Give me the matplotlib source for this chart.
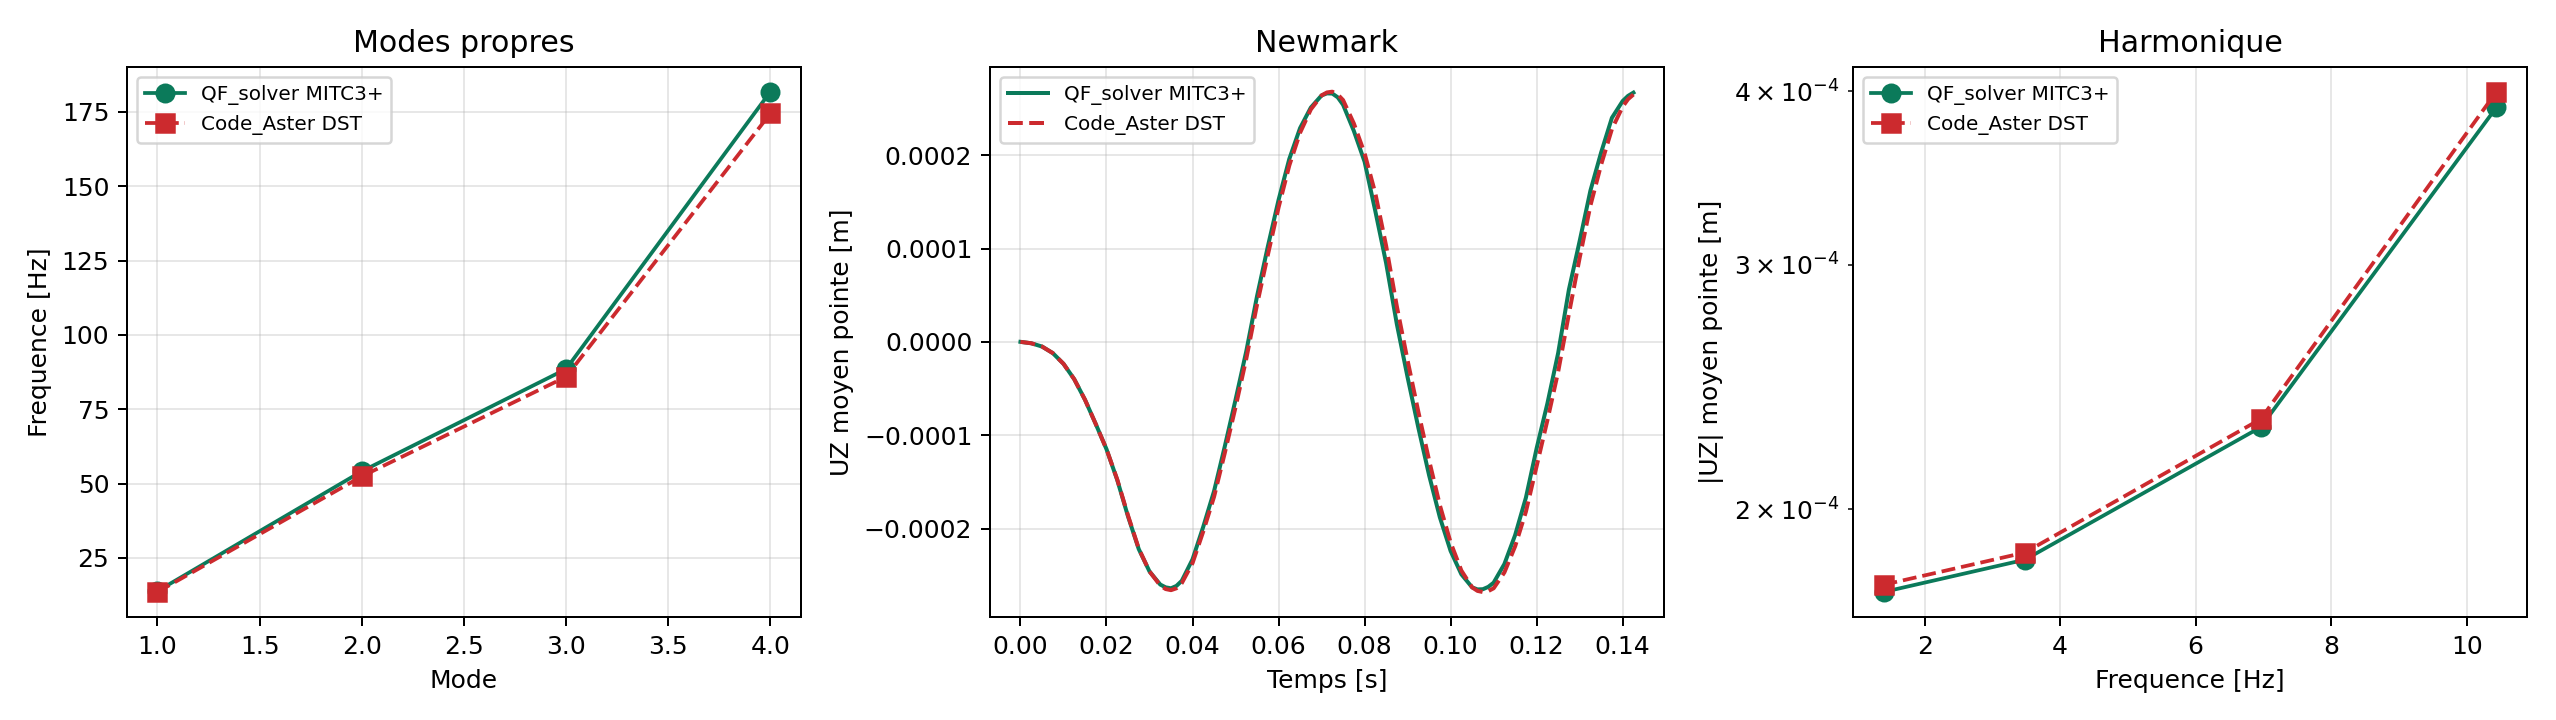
import numpy as np
import matplotlib
matplotlib.use("Agg")
import matplotlib.pyplot as plt

# couleurs des deux solveurs
c_qf = "#0b7a5a"
c_ca = "#cc2a2e"
lab_qf = "QF_solver MITC3+"
lab_ca = "Code_Aster DST"

# --- modes propres
modes = [1, 2, 3, 4]
freq_qf = [13.8, 54.1, 88.5, 181.8]
freq_ca = [13.5, 52.4, 85.9, 174.5]

# --- Newmark (UZ en 1e-4 m)
temps = [0.0000, 0.0025, 0.0050, 0.0075, 0.0100, 0.0125, 0.0150, 0.0175,
         0.0200, 0.0225, 0.0250, 0.0275, 0.0300, 0.0325, 0.03375, 0.0350,
         0.03625, 0.0375,
         0.0400, 0.0425, 0.0450, 0.0475, 0.0500, 0.0525, 0.0550, 0.0575,
         0.0600, 0.0625, 0.0650, 0.0675, 0.0700, 0.07125, 0.0725, 0.07375,
         0.0750, 0.0775,
         0.0800, 0.0825, 0.0850, 0.0875, 0.0900, 0.0925, 0.0950, 0.0975,
         0.1000, 0.1025, 0.1050, 0.10625, 0.1075, 0.10875, 0.1100, 0.1125,
         0.1150, 0.1175,
         0.1200, 0.1225, 0.1250, 0.1275, 0.1300, 0.1325, 0.1350, 0.1375,
         0.1400, 0.14125, 0.1425]
uz_qf = [0.000, -0.015, -0.050, -0.120, -0.235, -0.400, -0.620, -0.880,
         -1.150, -1.480, -1.870, -2.220, -2.460, -2.600, -2.630, -2.640,
         -2.615, -2.560,
         -2.330, -1.980, -1.600, -1.120, -0.620, -0.100, 0.490, 1.020,
         1.520, 1.960, 2.290, 2.510, 2.640, 2.662, 2.660, 2.620,
         2.540, 2.260,
         1.930, 1.400, 0.845, 0.190, -0.380, -0.920, -1.430, -1.880,
         -2.240, -2.490, -2.630, -2.652, -2.650, -2.625, -2.580, -2.380,
         -2.070, -1.670,
         -1.140, -0.660, -0.120, 0.560, 1.080, 1.620, 2.030, 2.400,
         2.580, 2.635, 2.670]
uz_ca = [0.000, -0.015, -0.050, -0.120, -0.235, -0.400, -0.620, -0.880,
         -1.150, -1.475, -1.860, -2.215, -2.460, -2.610, -2.648, -2.660,
         -2.640, -2.585,
         -2.370, -2.030, -1.660, -1.190, -0.700, -0.180, 0.400, 0.930,
         1.440, 1.890, 2.240, 2.490, 2.640, 2.672, 2.680, 2.650,
         2.590, 2.340,
         2.020, 1.590, 1.030, 0.380, -0.200, -0.750, -1.270, -1.750,
         -2.150, -2.450, -2.630, -2.668, -2.680, -2.670, -2.640, -2.470,
         -2.190, -1.820,
         -1.330, -0.840, -0.320, 0.300, 0.900, 1.460, 1.900, 2.280,
         2.520, 2.600, 2.650]

# --- harmonique
freq_h = [1.392, 3.48, 6.96, 10.44]
uzh_qf = [1.744e-4, 1.840e-4, 2.292e-4, 3.895e-4]
uzh_ca = [1.765e-4, 1.862e-4, 2.323e-4, 3.997e-4]

fig, axes = plt.subplots(1, 3, figsize=(14.2, 4), dpi=180)
ax1, ax2, ax3 = axes

ax1.plot(modes, freq_qf, "-o", color=c_qf, label=lab_qf, ms=7)
ax1.plot(modes, freq_ca, "--s", color=c_ca, label=lab_ca, ms=7)
ax1.set_title("Modes propres")
ax1.set_xlabel("Mode")
ax1.set_ylabel("Frequence [Hz]")

t = np.array(temps)
ax2.plot(t, np.array(uz_qf) * 1e-4, "-", color=c_qf, label=lab_qf, lw=1.6)
ax2.plot(t, np.array(uz_ca) * 1e-4, "--", color=c_ca, label=lab_ca, lw=1.6)
ax2.set_title("Newmark")
ax2.set_xlabel("Temps [s]")
ax2.set_ylabel("UZ moyen pointe [m]")

ax3.plot(freq_h, uzh_qf, "-o", color=c_qf, label=lab_qf, ms=7)
ax3.plot(freq_h, uzh_ca, "--s", color=c_ca, label=lab_ca, ms=7)
ax3.set_yscale("log")
ax3.set_title("Harmonique")
ax3.set_xlabel("Frequence [Hz]")
ax3.set_ylabel("|UZ| moyen pointe [m]")

for ax in axes:
    ax.grid(True, alpha=0.3)
    ax.legend(loc="upper left", fontsize=8)

plt.subplots_adjust(left=0.0496, right=0.9887, bottom=0.143, top=0.9074, wspace=0.28)
plt.savefig("out.png")
